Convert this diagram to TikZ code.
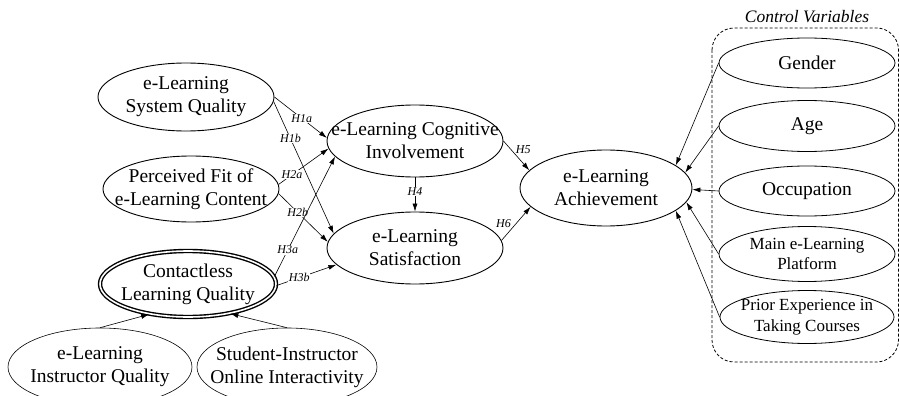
\documentclass[tikz,border=0pt]{standalone}
\usepackage{fontspec}
\setmainfont{Liberation Serif}
\usetikzlibrary{shapes.geometric,arrows.meta}
\tikzset{>={Latex[length=8pt,width=5pt]}}
\tikzset{
  var/.style={draw,ellipse,line width=0.9pt,inner sep=0pt,inner xsep=-40pt,align=center,font=\fontsize{19.5}{23}\selectfont},
  ctrl/.style={var,line width=0.8pt},
  small/.style={font=\fontsize{17}{20.5}\selectfont},
  link/.style={->,line width=0.6pt},
  hyp/.style={font=\fontsize{12}{13}\selectfont\itshape,fill=white,inner sep=0.6pt}
}

\begin{document}
\begin{tikzpicture}[x=1pt,y=-1pt]
\clip (0,0) rectangle (900,396);
% antecedents
\node[var,minimum width=176pt,minimum height=68pt] (sq) at (186,97) {e-Learning\\System Quality};
\node[var,minimum width=176pt,minimum height=66pt] (pf) at (191,189) {Perceived Fit of\\e-Learning Content};
\node[var,double,line width=1.4pt,double distance=1.6pt,minimum width=176pt,minimum height=66pt] (cq) at (188,284) {Contactless\\Learning Quality};
\node[var,line width=0.6pt,minimum width=184pt,minimum height=78pt] (iq) at (100,367) {e-Learning\\Instructor Quality};
\node[var,line width=0.6pt,minimum width=180pt,minimum height=78pt] (si) at (287,367) {Student-Instructor\\Online Interactivity};
% mediators and outcome
\node[var,minimum width=176pt,minimum height=72pt] (cog) at (415,141) {e-Learning Cognitive\\Involvement};
\node[var,minimum width=176pt,minimum height=72pt] (sat) at (415,248) {e-Learning\\Satisfaction};
\node[var,minimum width=172pt,minimum height=76pt] (ach) at (606,188) {e-Learning\\Achievement};
% control variables
\node[font=\fontsize{17.5}{20}\selectfont\itshape] (ctitle) at (807,17) {Control Variables};
\draw[line width=0.8pt,dash pattern=on 3pt off 2pt,rounded corners=22pt] (712,28) rectangle (898.5,362);
\node[ctrl,minimum width=176pt,minimum height=50pt] (gen) at (807,63) {Gender};
\node[ctrl,minimum width=176pt,minimum height=51pt] (age) at (807,126) {Age};
\node[ctrl,minimum width=176pt,minimum height=50pt] (occ) at (807,191) {Occupation};
\node[ctrl,small,minimum width=176pt,minimum height=55pt] (plat) at (807,254) {Main e-Learning\\Platform};
\node[ctrl,small,minimum width=174pt,minimum height=53pt] (prior) at (807,317) {Prior Experience in\\Taking Courses};

% hypotheses
\draw[link] (sq.east) -- node[hyp,pos=0.52] {H1a} (cog.178);
\draw[link] (sq.-3) -- node[hyp,pos=0.28] {H1b} (sat.170);
\draw[link] (pf.3) -- node[hyp,pos=0.27] {H2a} (cog.185);
\draw[link] (pf.-3) -- node[hyp,pos=0.39] {H2b} (sat.176);
\draw[link] (cq.5) -- node[hyp,pos=0.22] {H3a} (cog.191);
\draw[link] (cq.-1) -- node[hyp,pos=0.38] {H3b} (sat.192);
\draw[link] (cog.south) -- node[hyp,pos=0.4] {H4} (sat.north);
\draw[link] (cog.east) -- node[hyp,fill=none,pos=0.45,above right=0pt] {H5} (ach.167);
\draw[link] (sat.5) -- node[hyp,fill=none,pos=0.35,above left=0pt] {H6} (ach.194);
% formative indicators
\draw[link] (iq.north) -- (cq.218);
\draw[link] (si.north) -- (cq.325);
% controls
\draw[link] (gen.west) -- (ach.18);
\draw[link] (age.west) -- (ach.11);
\draw[link] (occ.west) -- (ach.-1);
\draw[link] (plat.west) -- (ach.-10);
\draw[link] (prior.west) -- (ach.-18);
\end{tikzpicture}
\end{document}
